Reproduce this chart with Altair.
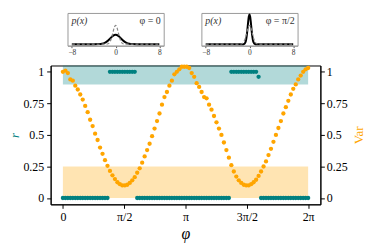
import math
import json
import altair as alt
import pandas as pd

# ---------------- data ----------------
N = 100
phi = [i * 2 * math.pi / (N - 1) for i in range(N)]

var_vals = [
    1.00, 1.01, 0.99, 0.94, 0.93, 0.89, 0.86, 0.82, 0.78, 0.73,
    0.68, 0.62, 0.57, 0.51, 0.46, 0.40, 0.35, 0.30, 0.255, 0.215,
    0.18, 0.15, 0.125, 0.11, 0.10, 0.10, 0.105, 0.12, 0.14, 0.165,
    0.20, 0.235, 0.28, 0.33, 0.38, 0.43, 0.49, 0.55, 0.61, 0.67,
    0.74, 0.80, 0.84, 0.89, 0.93, 0.98, 1.00, 1.02, 1.04, 1.04,
    1.04, 1.03, 0.99, 0.96, 0.91, 0.88, 0.84, 0.80, 0.79, 0.74,
    0.70, 0.65, 0.60, 0.55, 0.50, 0.44, 0.38, 0.32, 0.26, 0.21,
    0.17, 0.14, 0.12, 0.105, 0.10, 0.10, 0.11, 0.125, 0.145, 0.175,
    0.21, 0.25, 0.29, 0.34, 0.39, 0.445, 0.50, 0.555, 0.61, 0.67,
    0.72, 0.77, 0.82, 0.865, 0.90, 0.94, 0.97, 1.00, 1.02, 1.03,
]

r_vals = ([0.0] * 19 + [1.0] * 11 + [0.0] * 38 + [1.0] * 11 + [0.96] + [0.0] * 20)

x_tick_vals = [0, math.pi / 2, math.pi, 3 * math.pi / 2, 2 * math.pi]
x_tick_labels = ["0", "π/2", "π", "3π/2", "2π"]
y_tick_vals = [0, 0.25, 0.5, 0.75, 1]

band_teal = pd.DataFrame({"x0": [0.0], "x1": [2 * math.pi], "y0": [0.9], "y1": [1.05]})
band_orange = pd.DataFrame({"x0": [0.0], "x1": [2 * math.pi], "y0": [0.0], "y1": [0.25]})

# inset curves: p(x)
in1_x = [-8, -4, -3, -2.5, -2, -1.5, -1, -0.5, 0, 0.5, 1, 1.5, 2, 2.5, 3, 4, 8]
in1_y = [0, 0.0001, 0.004, 0.018, 0.054, 0.130, 0.242, 0.352, 0.399, 0.352, 0.242, 0.130, 0.054, 0.018, 0.004, 0.0001, 0]

ref_x = [-8, -2, -1.5, -1.25, -1, -0.75, -0.5, -0.25, 0, 0.25, 0.5, 0.75, 1, 1.25, 1.5, 2, 8]
ref_y = [0, 0.0003, 0.009, 0.035, 0.108, 0.259, 0.484, 0.704, 0.798, 0.704, 0.484, 0.259, 0.108, 0.035, 0.009, 0.0003, 0]

in2_x = [-8, -1.25, -1, -0.75, -0.625, -0.5, -0.375, -0.25, -0.125, 0, 0.125, 0.25, 0.375, 0.5, 0.625, 0.75, 1, 1.25, 8]
in2_y = [0, 0.0002, 0.0085, 0.076, 0.179, 0.362, 0.625, 0.923, 1.167, 1.262, 1.167, 0.923, 0.625, 0.362, 0.179, 0.076, 0.0085, 0.0002, 0]

in_x_ticks = [-8, 0, 8]

TEAL = "#008080"
ORANGE = "#FFA500"
FONT = "Liberation Serif"

# ---------------- main plot ----------------
main_df = pd.DataFrame({"phi": phi, "r": r_vals, "var": var_vals})

xscale = alt.Scale(domain=[-0.314, 6.597], nice=False, zero=False)
yscale = alt.Scale(domain=[-0.05, 1.05], nice=False, zero=False)

label_expr = json.dumps(x_tick_labels, ensure_ascii=False) + "[round(datum.value / (PI / 2))]"
xaxis = alt.Axis(values=x_tick_vals, labelExpr=label_expr, title="φ", titleFontStyle="italic",
                 titleFontSize=16, titleFontWeight="normal", labelFontSize=12, tickSize=4,
                 labelPadding=3, titlePadding=3, grid=False, domainColor="black", tickColor="black",
                 labelColor="black", titleColor="black", labelFont=FONT, titleFont=FONT)

left_axis = alt.Axis(values=y_tick_vals, format=".2~f", title="r", titleColor=TEAL, titleFontStyle="italic",
                     titleFontSize=13, titleFontWeight="normal", titleAngle=270, labelFontSize=12,
                     tickSize=4, labelPadding=3, titlePadding=1, grid=False, domainColor="black",
                     tickColor="black", labelColor="black", labelFont=FONT, titleFont=FONT, orient="left")
right_axis = alt.Axis(values=y_tick_vals, format=".2~f", title="Var", titleColor=ORANGE,
                      titleFontSize=13, titleFontWeight="normal", titleAngle=270, titleBaseline="top",
                      labelFontSize=12, tickSize=4, labelPadding=2, titlePadding=5, grid=False,
                      domainColor="black", tickColor="black", labelColor="black", labelFont=FONT,
                      titleFont=FONT, orient="right")

teal_band = alt.Chart(band_teal).mark_rect(color=TEAL, opacity=0.3).encode(
    x=alt.X("x0:Q", scale=xscale, axis=xaxis), x2="x1:Q",
    y=alt.Y("y0:Q", scale=yscale, axis=None), y2="y1:Q")
orange_band = alt.Chart(band_orange).mark_rect(color=ORANGE, opacity=0.3).encode(
    x=alt.X("x0:Q", scale=xscale, axis=xaxis), x2="x1:Q",
    y=alt.Y("y0:Q", scale=yscale, axis=None), y2="y1:Q")
teal_pts = alt.Chart(main_df).mark_circle(color=TEAL, size=19, opacity=1).encode(
    x=alt.X("phi:Q", scale=xscale, axis=xaxis),
    y=alt.Y("r:Q", scale=yscale, axis=left_axis))
orange_pts = alt.Chart(main_df).mark_circle(color=ORANGE, size=19, opacity=1).encode(
    x=alt.X("phi:Q", scale=xscale, axis=xaxis),
    y=alt.Y("var:Q", scale=yscale, axis=right_axis))

main = alt.layer(teal_band, orange_band, teal_pts, orange_pts).resolve_scale(y="independent").properties(
    width=272, height=140, view=alt.ViewBackground(stroke="black", strokeWidth=1))

# ---------------- insets ----------------
in_xscale = alt.Scale(domain=[-8.8, 8.8], nice=False, zero=False)
in_yscale = alt.Scale(domain=[-0.063, 1.325], nice=False, zero=False)
in_xaxis = alt.Axis(values=in_x_ticks, title=None, labelFontSize=7.5, tickSize=2, labelPadding=1,
                    grid=False, domainColor="#999999", tickColor="#555555", labelColor="#333333",
                    labelFont=FONT)


def inset(xs, ys, label):
    sol = alt.Chart(pd.DataFrame({"x": xs, "p": ys})).mark_line(
        color="black", strokeWidth=2, interpolate="monotone").encode(
        x=alt.X("x:Q", scale=in_xscale, axis=in_xaxis),
        y=alt.Y("p:Q", scale=in_yscale, axis=None))
    dash = alt.Chart(pd.DataFrame({"x": ref_x, "p": ref_y})).mark_line(
        color="#888888", strokeWidth=1.2, strokeDash=[3, 2], interpolate="monotone").encode(
        x=alt.X("x:Q", scale=in_xscale, axis=in_xaxis),
        y=alt.Y("p:Q", scale=in_yscale, axis=None))
    t1 = alt.Chart(pd.DataFrame({"t": ["p(x)"]})).mark_text(
        align="left", baseline="top", font=FONT, fontSize=10, fontStyle="italic", color="#333333").encode(
        text="t:N", x=alt.value(4), y=alt.value(3))
    t2 = alt.Chart(pd.DataFrame({"t": [label]})).mark_text(
        align="right", baseline="top", font=FONT, fontSize=10, color="#333333").encode(
        text="t:N", x=alt.value(94), y=alt.value(3))
    return alt.layer(sol, dash, t1, t2).properties(
        width=97, height=33, view=alt.ViewBackground(stroke="#999999", strokeWidth=1))


ins1 = inset(in1_x, in1_y, "φ = 0")
ins2 = inset(in2_x, in2_y, "φ = π/2")

spacer = alt.Chart(pd.DataFrame({"a": [0]})).mark_point(opacity=0, size=1).encode(
    x=alt.value(0.5), y=alt.value(10)).properties(
    width=1, height=33, view=alt.ViewBackground(stroke="transparent"))

top = alt.hconcat(spacer, alt.hconcat(ins1, ins2, spacing=36), spacing=14)
chart = alt.vconcat(top, main, spacing=7).properties(padding=0).configure(font=FONT)

chart.save("out.html", embed_options={"renderer": "svg", "actions": False})
